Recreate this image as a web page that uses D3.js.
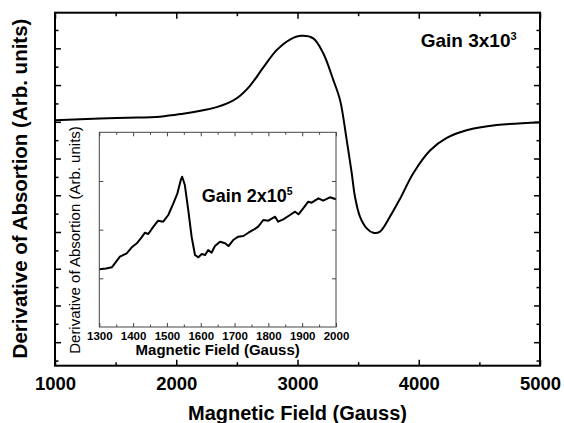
<!DOCTYPE html>
<html>
<head>
<meta charset="utf-8">
<script src="https://cdn.jsdelivr.net/npm/d3@7"></script>
<style>
  body { margin: 0; background: #fff; }
  svg { display: block; font-family: 'Liberation Sans', Arial, sans-serif; }
</style>
</head>
<body>
<div class="chart"></div>
<script>
// main spectrum (gain 3x10^3)
const mainField = [1000, 1371, 1600, 1866, 2056, 2200, 2334, 2420, 2499, 2608, 2718, 2828, 2938, 3035, 3130, 3213, 3295, 3351, 3406, 3447, 3474, 3515, 3571, 3625, 3680, 3763, 3845, 3955, 4093, 4231, 4395, 4643, 5000];
const mainSignal = [6.04, 6.09, 6.11, 6.14, 6.22, 6.3, 6.4, 6.5, 6.64, 6.98, 7.48, 7.95, 8.24, 8.34, 8.27, 7.86, 7.14, 6.59, 5.5, 4.61, 3.96, 3.42, 3.1, 2.98, 3.01, 3.42, 3.9, 4.6, 5.22, 5.56, 5.77, 5.91, 5.98];

// inset spectrum (gain 2x10^5)
const insetField = [1300, 1320, 1337, 1346, 1361, 1381, 1396, 1411, 1425, 1435, 1445, 1460, 1474, 1489, 1504, 1519, 1531, 1541, 1545, 1553, 1563, 1573, 1583, 1593, 1603, 1613, 1622, 1632, 1642, 1657, 1672, 1682, 1696, 1711, 1726, 1741, 1755, 1770, 1785, 1800, 1820, 1829, 1844, 1864, 1879, 1889, 1903, 1918, 1928, 1948, 1962, 1982, 2000];
const insetSignal = [1.185, 1.2, 1.227, 1.309, 1.444, 1.514, 1.637, 1.72, 1.843, 1.937, 1.911, 2.061, 2.184, 2.163, 2.301, 2.541, 2.747, 3.02, 3.088, 2.917, 2.404, 1.855, 1.479, 1.432, 1.5, 1.479, 1.582, 1.526, 1.664, 1.752, 1.72, 1.664, 1.787, 1.855, 1.87, 1.937, 1.993, 2.061, 2.198, 2.184, 2.266, 2.163, 2.213, 2.301, 2.369, 2.315, 2.439, 2.574, 2.554, 2.644, 2.595, 2.665, 2.624];

const mainXTicks = [1000, 2000, 3000, 4000, 5000];
const insetXTicks = [1300, 1400, 1500, 1600, 1700, 1800, 1900, 2000];

const dimensions = {
  width: 564,
  height: 423,
  margin: { top: 12.7, right: 24, bottom: 57.3, left: 55 },
};
dimensions.boundedWidth = dimensions.width - dimensions.margin.left - dimensions.margin.right;
dimensions.boundedHeight = dimensions.height - dimensions.margin.top - dimensions.margin.bottom;

const svg = d3.select('.chart')
  .append('svg')
  .attr('width', dimensions.width)
  .attr('height', dimensions.height);

const bounds = svg.append('g')
  .attr('transform', `translate(${dimensions.margin.left},${dimensions.margin.top})`);

const xScale = d3.scaleLinear()
  .domain([1000, 5000])
  .range([0, dimensions.boundedWidth]);

const yScale = d3.scaleLinear()
  .domain([-0.64, 8.97])
  .range([dimensions.boundedHeight, 0]);

// inward ticks on all four sides
function styleAxis(g) {
  g.select('.domain').remove();
  g.selectAll('line').attr('stroke', '#000').attr('stroke-width', 1.5);
}

const xMinor = d3.range(1500, 5000, 1000);
const yMajor = d3.range(0, 9, 1);
const yMinor = d3.range(-0.5, 9, 1);

bounds.append('g')
  .attr('transform', `translate(0,${dimensions.boundedHeight})`)
  .call(d3.axisBottom(xScale).tickValues(mainXTicks).tickFormat(d3.format('d'))
    .tickSizeInner(-6).tickSizeOuter(0).tickPadding(11))
  .call(styleAxis)
  .call((g) => g.selectAll('text')
    .attr('font-size', 18.5).attr('font-weight', 'bold')
    .attr('font-family', "'Liberation Sans', Arial, sans-serif").attr('fill', '#000'));
bounds.append('g')
  .attr('transform', `translate(0,${dimensions.boundedHeight})`)
  .call(d3.axisBottom(xScale).tickValues(xMinor).tickSize(-3.5).tickFormat(''))
  .call(styleAxis);
bounds.append('g')
  .call(d3.axisTop(xScale).tickValues(mainXTicks).tickSize(-6).tickFormat(''))
  .call(styleAxis);
bounds.append('g')
  .call(d3.axisTop(xScale).tickValues(xMinor).tickSize(-3.5).tickFormat(''))
  .call(styleAxis);
bounds.append('g')
  .call(d3.axisLeft(yScale).tickValues(yMajor).tickSize(-6).tickFormat(''))
  .call(styleAxis);
bounds.append('g')
  .call(d3.axisLeft(yScale).tickValues(yMinor).tickSize(-3.5).tickFormat(''))
  .call(styleAxis);
bounds.append('g')
  .attr('transform', `translate(${dimensions.boundedWidth},0)`)
  .call(d3.axisRight(yScale).tickValues(yMajor).tickSize(-6).tickFormat(''))
  .call(styleAxis);
bounds.append('g')
  .attr('transform', `translate(${dimensions.boundedWidth},0)`)
  .call(d3.axisRight(yScale).tickValues(yMinor).tickSize(-3.5).tickFormat(''))
  .call(styleAxis);

// main line
const mainLine = d3.line()
  .x((d, i) => xScale(mainField[i]))
  .y((d) => yScale(d))
  .curve(d3.curveCatmullRom.alpha(0.5));

bounds.append('path')
  .attr('d', mainLine(mainSignal))
  .attr('fill', 'none')
  .attr('stroke', '#000')
  .attr('stroke-width', 2);

// frame
bounds.append('rect')
  .attr('width', dimensions.boundedWidth)
  .attr('height', dimensions.boundedHeight)
  .attr('fill', 'none')
  .attr('stroke', '#000')
  .attr('stroke-width', 2);

// gain label
const gainMain = bounds.append('text')
  .attr('x', 420.7 - dimensions.margin.left)
  .attr('y', 47.3 - dimensions.margin.top)
  .attr('font-size', 19)
  .attr('font-weight', 'bold')
  .text('Gain 3x10');
gainMain.append('tspan').attr('font-size', 11).attr('dy', -7.7).text('3');

// axis titles
svg.append('text')
  .attr('x', dimensions.margin.left + dimensions.boundedWidth / 2)
  .attr('y', 420)
  .attr('text-anchor', 'middle')
  .attr('font-size', 20)
  .attr('font-weight', 'bold')
  .text('Magnetic Field (Gauss)');

svg.append('text')
  .attr('transform', 'translate(27,188.5) rotate(-90)')
  .attr('text-anchor', 'middle')
  .attr('font-size', 20.5)
  .attr('font-weight', 'bold')
  .text('Derivative of Absortion (Arb. units)');

// ---- inset ----
const inset = { left: 99.3, top: 132.3, right: 336, bottom: 327 };
inset.width = inset.right - inset.left;
inset.height = inset.bottom - inset.top;

const insetBounds = svg.append('g')
  .attr('transform', `translate(${inset.left},${inset.top})`);

insetBounds.append('rect')
  .attr('width', inset.width)
  .attr('height', inset.height)
  .attr('fill', '#fff');

const insetX = d3.scaleLinear().domain([1300, 2000]).range([0, inset.width]);
const insetY = d3.scaleLinear().domain([0, 4]).range([inset.height, 0]);

function styleInsetAxis(g) {
  g.select('.domain').remove();
  g.selectAll('line').attr('stroke', '#444').attr('stroke-width', 1);
}

const insetMinor = d3.range(1350, 2000, 100);

insetBounds.append('g')
  .attr('transform', `translate(0,${inset.height})`)
  .call(d3.axisBottom(insetX).tickValues(insetXTicks).tickFormat(d3.format('d'))
    .tickSizeInner(-4).tickSizeOuter(0).tickPadding(5))
  .call(styleInsetAxis)
  .call((g) => g.selectAll('text')
    .attr('font-size', 11.5).attr('font-weight', 'bold')
    .attr('font-family', "'Liberation Sans', Arial, sans-serif").attr('fill', '#000'));
insetBounds.append('g')
  .attr('transform', `translate(0,${inset.height})`)
  .call(d3.axisBottom(insetX).tickValues(insetMinor).tickSize(-2.5).tickFormat(''))
  .call(styleInsetAxis);
insetBounds.append('g')
  .call(d3.axisTop(insetX).tickValues(insetXTicks).tickSize(-4).tickFormat(''))
  .call(styleInsetAxis);
insetBounds.append('g')
  .call(d3.axisTop(insetX).tickValues(insetMinor).tickSize(-2.5).tickFormat(''))
  .call(styleInsetAxis);
insetBounds.append('g')
  .call(d3.axisLeft(insetY).tickValues([1, 2, 3]).tickSize(-4).tickFormat(''))
  .call(styleInsetAxis);
insetBounds.append('g')
  .attr('transform', `translate(${inset.width},0)`)
  .call(d3.axisRight(insetY).tickValues([1, 2, 3]).tickSize(-4).tickFormat(''))
  .call(styleInsetAxis);

const insetLine = d3.line()
  .x((d, i) => insetX(insetField[i]))
  .y((d) => insetY(d));

insetBounds.append('path')
  .attr('d', insetLine(insetSignal))
  .attr('fill', 'none')
  .attr('stroke', '#000')
  .attr('stroke-width', 2)
  .attr('stroke-linejoin', 'round');

insetBounds.append('rect')
  .attr('width', inset.width)
  .attr('height', inset.height)
  .attr('fill', 'none')
  .attr('stroke', '#444')
  .attr('stroke-width', 1);

const gainInset = svg.append('text')
  .attr('x', 201.7)
  .attr('y', 201.7)
  .attr('font-size', 18)
  .attr('font-weight', 'bold')
  .text('Gain 2x10');
gainInset.append('tspan').attr('font-size', 10.5).attr('dy', -6.5).text('5');

svg.append('text')
  .attr('x', (inset.left + inset.right) / 2)
  .attr('y', 355)
  .attr('text-anchor', 'middle')
  .attr('font-size', 15)
  .attr('font-weight', 'bold')
  .text('Magnetic Field (Gauss)');

svg.append('text')
  .attr('transform', 'translate(80,240) rotate(-90)')
  .attr('text-anchor', 'middle')
  .attr('font-size', 15)
  .text('Derivative of Absortion (Arb. units)');
</script>
</body>
</html>
